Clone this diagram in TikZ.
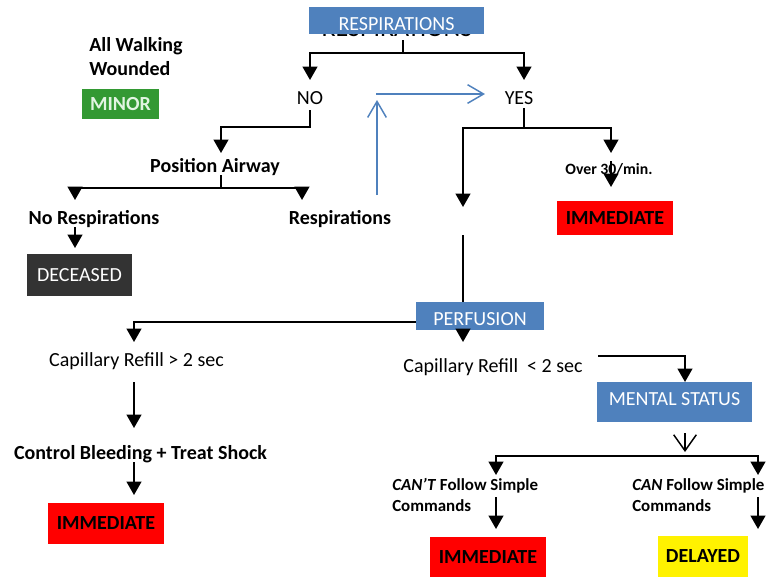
\documentclass[tikz,border=0pt]{standalone}
\usepackage{fontspec}
\setmainfont{Carlito}
\usetikzlibrary{arrows.meta,calc}
\definecolor{boxblue}{HTML}{4F81BD}
\definecolor{minorgreen}{HTML}{339933}
\definecolor{decgray}{HTML}{333333}
\definecolor{minortext}{HTML}{E2F4E2}
\newcommand{\lowtext}[2]{\smash{\raisebox{-#1}{#2}}}
\begin{document}
\begin{tikzpicture}[x=0.75pt,y=-0.75pt,
  arr/.style={line width=1.5pt,-{Triangle[width=11pt,length=10pt]}},
  ln/.style={line width=1.5pt},
  blarr/.style={draw=boxblue,line width=1.1pt,-{Straight Barb[length=12pt,width=14pt,line width=1.1pt]}},
  vopen/.style={line width=1.1pt,-{Straight Barb[length=12pt,width=17pt,line width=1.1pt]}},
  bluebox/.style={fill=boxblue,text=white,font=\fontsize{15}{17}\selectfont,inner sep=0pt},
  catbox/.style={font=\bfseries\fontsize{15}{17}\selectfont,inner sep=0pt},
  lbl/.style={font=\fontsize{15}{17}\selectfont,inner sep=0pt},
  blbl/.style={font=\bfseries\fontsize{15}{17}\selectfont,inner sep=0pt},
  slbl/.style={font=\bfseries\fontsize{12.7}{15}\selectfont,inner sep=0pt},
]
\useasboundingbox (0,0) rectangle (768,579);

% hidden text behind the top box
\node[inner sep=0pt,anchor=base,font=\fontsize{19.5}{22}\selectfont] (ghost) at (397,36) {RESPIRATIONS};
\node[bluebox,minimum width=131.25pt,minimum height=20.25pt] (resp) at (396.5,20) {\lowtext{7.8pt}{RESPIRATIONS}};

\node[blbl,anchor=base west] (walk1) at (89,51) {All Walking};
\node[blbl,anchor=base west] (walk2) at (89,75) {Wounded};
\node[catbox,fill=minorgreen,text=minortext,minimum width=57.75pt,minimum height=22.5pt] (minor) at (120.5,104) {MINOR};

\node[lbl,anchor=base] (no) at (310,104) {NO};
\node[lbl,anchor=base] (yes) at (519,104) {YES};
\node[blbl,anchor=base] (airway) at (215,172) {Position Airway};
\node[blbl,anchor=base] (norsp) at (94,224) {No Respirations};
\node[blbl,anchor=base] (rsp) at (340,224) {Respirations};
\node[lbl,fill=decgray,text=white,minimum width=78.75pt,minimum height=31.5pt] (dec) at (79.5,275) {DECEASED};

\node[font=\bfseries\fontsize{11.8}{14}\selectfont,inner sep=0pt,anchor=base] (over) at (609,174) {Over 30/min.};
\node[catbox,fill=red,minimum width=87pt,minimum height=25.5pt] (imm1) at (615,218) {IMMEDIATE};

\node[bluebox,minimum width=96pt,minimum height=21pt] (perf) at (480,316) {\lowtext{7.1pt}{PERFUSION}};
\node[lbl,anchor=base] (capgt) at (136.5,366) {Capillary Refill > 2 sec};
\node[lbl,anchor=base] (caplt) at (493,372) {Capillary Refill\ \ < 2 sec};
\node[blbl,anchor=base] (ctrl) at (140.5,459) {Control Bleeding + Treat Shock};
\node[catbox,fill=red,minimum width=87pt,minimum height=30.75pt] (imm2) at (106,523.5) {IMMEDIATE};

\node[bluebox,minimum width=116.25pt,minimum height=30pt] (mental) at (674.5,402) {\lowtext{2.6pt}{MENTAL STATUS}};
\node[slbl,anchor=base west] (cant1) at (392,490) {\textit{CAN’T} Follow Simple};
\node[slbl,anchor=base west] (cant2) at (392,511) {Commands};
\node[slbl,anchor=base west] (can1) at (632,490) {\textit{CAN} Follow Simple};
\node[slbl,anchor=base west] (can2) at (632,511) {Commands};
\node[catbox,fill=red,minimum width=87pt,minimum height=30pt] (imm3) at (488,557) {IMMEDIATE};
\node[catbox,fill=yellow,minimum width=67.5pt,minimum height=30.75pt] (del) at (703,556.5) {DELAYED};

% junction coordinates
\coordinate (rA) at (403,40);
\coordinate (rJ) at (403,53);
\coordinate (noIn) at (310,80);
\coordinate (yesIn) at (524,80);
\coordinate (noOut) at (310,110);
\coordinate (noJ) at (310,127);
\coordinate (awIn) at (221,153);
\coordinate (awOut) at (221,175);
\coordinate (awJ) at (221,188);
\coordinate (nrIn) at (75,200);
\coordinate (rIn) at (302,200);
\coordinate (nrOut) at (75,227);
\coordinate (decIn) at (75,248);
\coordinate (bl1) at (377,195);
\coordinate (bl2) at (377,100);
\coordinate (bl3) at (376,94);
\coordinate (bl4) at (485,94);
\coordinate (yesOut) at (524,108);
\coordinate (yesJ) at (524,128);
\coordinate (lIn) at (463,207);
\coordinate (ovIn) at (611,153);
\coordinate (ovOut) at (611,161);
\coordinate (imm1In) at (611,187);
\coordinate (lOut) at (463,235);
\coordinate (perfTop) at (463,302);
\coordinate (perfL) at (416,322);
\coordinate (cgIn) at (134,342);
\coordinate (perfB) at (463,330);
\coordinate (clIn) at (463,342);
\coordinate (clOut) at (598,356);
\coordinate (msIn) at (685,382);
\coordinate (cgOut) at (134,382);
\coordinate (ctIn) at (134,428);
\coordinate (ctOut) at (134,462);
\coordinate (imm2In) at (134,495);
\coordinate (msOut) at (685,433);
\coordinate (msV) at (685,452);
\coordinate (msJ) at (685,456);
\coordinate (cantIn) at (496,475);
\coordinate (canIn) at (758,475);
\coordinate (cantOut) at (496,497);
\coordinate (imm3In) at (496,529);
\coordinate (canOut) at (758,497);
\coordinate (delIn) at (758,529);

% connectors
\draw[arr] (rA) -- (rJ) -| (noIn);
\draw[arr] (rJ) -| (yesIn);
\draw[arr] (noOut) -- (noJ) -| (awIn);
\draw[arr] (awOut) -- (awJ) -| (nrIn);
\draw[arr] (awJ) -| (rIn);
\draw[arr] (nrOut) -- (decIn);
\draw[blarr] (bl1) -- (bl2);
\draw[blarr] (bl3) -- (bl4);
\draw[ln] (yesOut) -- (yesJ);
\draw[arr] (yesJ) -| (lIn);
\draw[arr] (yesJ) -| (ovIn);
\draw[arr] (ovOut) -- (imm1In);
\draw[ln] (lOut) -- (perfTop);
\draw[arr] (perfL) -| (cgIn);
\draw[arr] (perfB) -- (clIn);
\draw[arr] (clOut) -| (msIn);
\draw[arr] (cgOut) -- (ctIn);
\draw[arr] (ctOut) -- (imm2In);
\draw[vopen] (msOut) -- (msV);
\draw[arr] (msJ) -| (cantIn);
\draw[arr] (msJ) -| (canIn);
\draw[arr] (cantOut) -- (imm3In);
\draw[arr] (canOut) -- (delIn);
\end{tikzpicture}
\end{document}
